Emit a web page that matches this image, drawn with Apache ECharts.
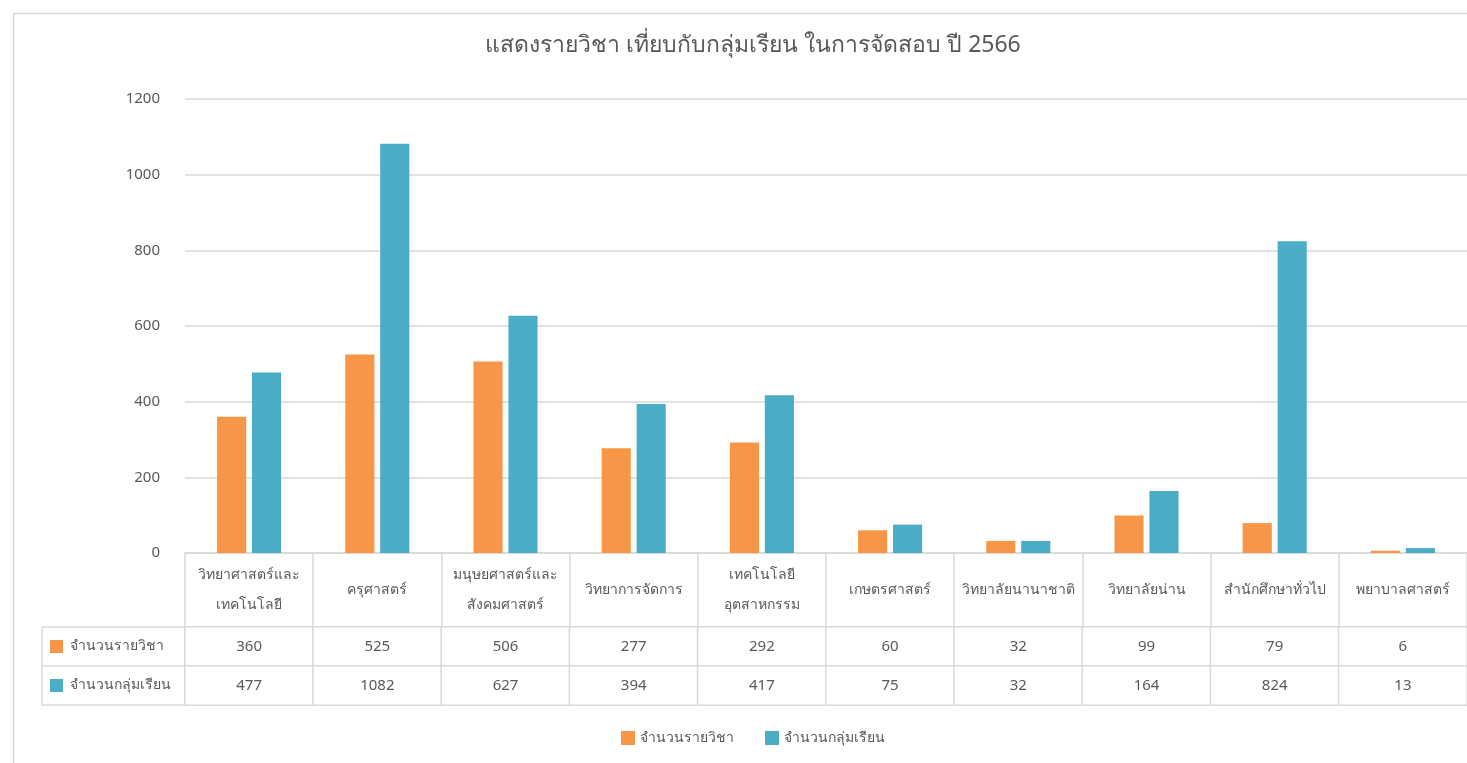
<!DOCTYPE html>
<html lang="th">
<head>
    <meta charset="UTF-8">
    <script type="text/javascript" src="https://cdn.jsdelivr.net/npm/echarts@6/dist/echarts.min.js"></script>
    <title>แสดงรายวิชา เทียบกับกลุ่มเรียน</title>
    <style type="text/css">
        html, body { margin: 0; padding: 0; background: #fff; }
        #chart { width: 1467px; height: 763px; }
    </style>
</head>
<body>
    <div id="chart"></div>
    <script type="text/javascript">
        // หมวด / คณะ
        let faculties = [
            "วิทยาศาสตร์และ\nเทคโนโลยี", "ครุศาสตร์", "มนุษยศาสตร์และ\nสังคมศาสตร์", "วิทยาการจัดการ",
            "เทคโนโลยี\nอุตสาหกรรม", "เกษตรศาสตร์", "วิทยาลัยนานาชาติ", "วิทยาลัยน่าน",
            "สำนักศึกษาทั่วไป", "พยาบาลศาสตร์"
        ]
        let seriesNames = ["จำนวนรายวิชา", "จำนวนกลุ่มเรียน"]
        let subjects = [360, 525, 506, 277, 292, 60, 32, 99, 79, 6]
        let sections = [477, 1082, 627, 394, 417, 75, 32, 164, 824, 13]
        let yTicks = [0, 200, 400, 600, 800, 1000, 1200]

        let colors = ["#F79646", "#4BACC6"]
        let textColor = "#595959"
        let lineColor = "#d9d9d9"

        // ตารางข้อมูลใต้กราฟ
        let cells = []
        for (let i = 0; i < faculties.length; i++) {
            cells.push([i, 0, subjects[i]])
            cells.push([i, 1, sections[i]])
        }

        let chart = echarts.init(document.getElementById('chart'))
        let option = {
            animation: false,
            textStyle: { fontFamily: "'Noto Sans', sans-serif" },
            color: colors,
            title: {
                text: "แสดงรายวิชา เที่ยบกับกลุ่มเรียน ในการจัดสอบ ปี 2566",
                left: 748,
                textAlign: 'center',
                top: 29,
                textStyle: { fontSize: 23, fontWeight: 'normal', color: textColor }
            },
            graphic: [{
                type: 'rect',
                left: 11, top: 11,
                shape: { width: 1470, height: 760 },
                style: { fill: 'none', stroke: lineColor, lineWidth: 1.5 },
                silent: true
            }],
            legend: {
                data: seriesNames,
                top: 726,
                left: 616,
                icon: 'rect',
                itemWidth: 14,
                itemHeight: 14,
                itemGap: 31,
                textStyle: { fontSize: 14, color: textColor }
            },
            grid: [
                { left: 185, right: 0, top: 99, height: 454 },
                { left: 185, right: 0, top: 627, height: 78 }
            ],
            xAxis: [{
                type: 'category',
                gridIndex: 0,
                data: faculties,
                axisLine: { lineStyle: { color: lineColor, width: 1.5 } },
                axisTick: { show: true, length: 152, lineStyle: { color: lineColor, width: 1.5 } },
                axisLabel: {
                    interval: 0, margin: 37, verticalAlign: 'middle',
                    lineHeight: 30, fontSize: 14, color: textColor
                }
            }, {
                type: 'category',
                gridIndex: 1,
                data: faculties,
                show: false
            }],
            yAxis: [{
                type: 'value',
                gridIndex: 0,
                min: yTicks[0],
                max: yTicks[yTicks.length - 1],
                interval: 200,
                axisLine: { show: false },
                axisTick: { show: false },
                axisLabel: { margin: 25, fontSize: 15, color: textColor,
                    formatter: function (v) { return String(v) } },
                splitLine: { lineStyle: { color: lineColor, width: 1.5 } }
            }, {
                type: 'category',
                gridIndex: 1,
                data: seriesNames,
                inverse: true,
                axisLine: { show: false },
                axisTick: { show: true, length: 143, lineStyle: { color: lineColor, width: 1.5 } },
                axisLabel: {
                    align: 'left', margin: 135, fontSize: 14, color: textColor,
                    formatter: function (v, i) { return '{s' + i + '|}  ' + v },
                    rich: {
                        s0: { width: 13, height: 13, backgroundColor: colors[0] },
                        s1: { width: 13, height: 13, backgroundColor: colors[1] }
                    }
                }
            }, {
                type: 'category',
                gridIndex: 1,
                data: seriesNames,
                position: 'left',
                offset: 143,
                axisLine: { show: true, lineStyle: { color: lineColor, width: 1.5 } },
                axisTick: { show: false },
                axisLabel: { show: false }
            }],
            series: [{
                name: seriesNames[0],
                type: 'bar',
                data: subjects,
                barGap: '20%',
                barCategoryGap: '50%'
            }, {
                name: seriesNames[1],
                type: 'bar',
                data: sections,
                barGap: '20%',
                barCategoryGap: '50%'
            }, {
                type: 'heatmap',
                xAxisIndex: 1,
                yAxisIndex: 1,
                data: cells,
                silent: true,
                itemStyle: { color: '#fff', borderColor: lineColor, borderWidth: 1.5 },
                label: { show: true, fontSize: 15, color: textColor,
                    formatter: function (p) { return p.value[2] } }
            }]
        }
        chart.setOption(option)
    </script>
</body>
</html>
